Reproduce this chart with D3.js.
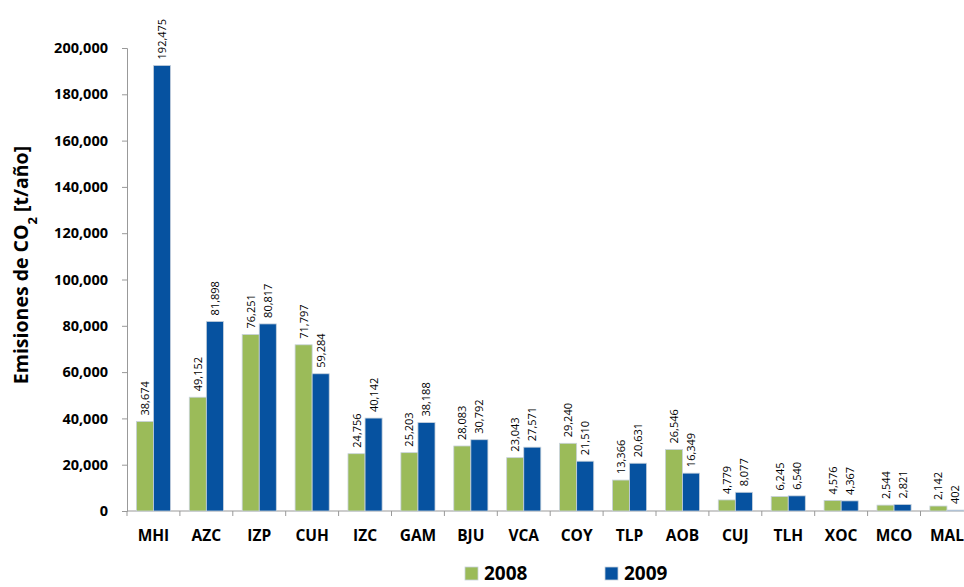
<!DOCTYPE html>
<meta charset="utf-8">
<style>
    body { margin: 0; background: #fff; }
    text { font-family: "Open Sans", "Noto Sans", sans-serif; }
    .axis path, .axis line { stroke: #999; }
    .axis text { font-size: 15.5px; font-weight: bold; fill: #000; }
    .val { font-size: 11px; fill: #000; }
</style>
<svg width="964" height="587"></svg>
<script src="https://d3js.org/d3.v7.min.js"></script>
<script>
    const categories = ["MHI", "AZC", "IZP", "CUH", "IZC", "GAM", "BJU", "VCA", "COY", "TLP", "AOB", "CUJ", "TLH", "XOC", "MCO", "MAL"];
    const values2008 = [38674, 49152, 76251, 71797, 24756, 25203, 28083, 23043, 29240, 13366, 26546, 4779, 6245, 4576, 2544, 2142];
    const values2009 = [192475, 81898, 80817, 59284, 40142, 38188, 30792, 27571, 21510, 20631, 16349, 8077, 6540, 4367, 2821, 402];
    const seriesNames = ["2008", "2009"];
    const yTicks = [0, 20000, 40000, 60000, 80000, 100000, 120000, 140000, 160000, 180000, 200000];
    const colors = ["#9BBB59", "#0652A0"];

    const svg = d3.select("svg");
    const plotLeft = 127, plotTop = 48, plotBottom = 511;
    const bandW = 52.9;

    const x = d3.scaleBand()
        .domain(categories)
        .range([plotLeft, plotLeft + bandW * categories.length])
        .paddingInner(0)
        .paddingOuter(0);

    const xs = d3.scaleBand()
        .domain(seriesNames)
        .range([0, x.bandwidth()])
        .paddingOuter(0.55)
        .paddingInner(0);

    const y = d3.scaleLinear().domain([0, 200000]).range([plotBottom, plotTop]);

    // y axis
    const yAxis = svg.append("g")
        .attr("class", "axis")
        .attr("transform", "translate(" + plotLeft + ",0)")
        .call(d3.axisLeft(y).tickValues(yTicks).tickSizeOuter(0).tickSize(5).tickPadding(14)
            .tickFormat(d3.format(",")));
    yAxis.selectAll("text").style("font-size", "14.5px");

    // x axis with ticks between categories
    const xAxisG = svg.append("g")
        .attr("class", "axis")
        .attr("transform", "translate(0," + plotBottom + ")");
    xAxisG.append("line")
        .attr("x1", plotLeft).attr("x2", x.range()[1])
        .attr("y1", 0).attr("y2", 0);
    xAxisG.selectAll(".tk")
        .data(categories.concat(["end"]))
        .enter().append("line")
        .attr("x1", (d, i) => plotLeft + i * x.step())
        .attr("x2", (d, i) => plotLeft + i * x.step())
        .attr("y1", 0).attr("y2", 5);
    xAxisG.selectAll(".lbl")
        .data(categories)
        .enter().append("text")
        .attr("x", d => x(d) + x.bandwidth() / 2)
        .attr("y", 30)
        .attr("text-anchor", "middle")
        .text(d => d);

    const series = [values2008, values2009];

    series.forEach(function (vals, s) {
        const g = svg.append("g");
        g.selectAll("rect")
            .data(vals)
            .enter().append("rect")
            .attr("x", (d, i) => x(categories[i]) + xs(seriesNames[s]))
            .attr("y", d => y(d))
            .attr("width", xs.bandwidth())
            .attr("height", d => plotBottom - y(d))
            .attr("fill", colors[s])
            .attr("stroke", "#c8d2dc")
            .attr("stroke-width", 0.8);

        g.selectAll("text")
            .data(vals)
            .enter().append("text")
            .attr("class", "val")
            .attr("transform", (d, i) => {
                const cx = x(categories[i]) + xs(seriesNames[s]) + xs.bandwidth() / 2 + 4;
                return "translate(" + cx + "," + (y(d) - 6) + ") rotate(-90)";
            })
            .text(d => d3.format(",")(d));
    });

    // y axis title
    const title = svg.append("text")
        .attr("transform", "translate(28,265) rotate(-90)")
        .attr("text-anchor", "middle")
        .style("font-size", "19.5px")
        .style("font-weight", "bold");
    title.append("tspan").text("Emisiones de CO");
    title.append("tspan").attr("baseline-shift", "sub").style("font-size", "13px").text("2");
    title.append("tspan").text(" [t/año]");

    // legend
    const legend = svg.append("g");
    const legX = [465, 605];
    seriesNames.forEach(function (name, i) {
        legend.append("rect")
            .attr("x", legX[i]).attr("y", 567)
            .attr("width", 13).attr("height", 13)
            .attr("fill", colors[i])
            .attr("stroke", "#c8d2dc").attr("stroke-width", 0.8);
        legend.append("text")
            .attr("x", legX[i] + 19).attr("y", 580)
            .style("font-size", "19px")
            .style("font-weight", "bold")
            .text(name);
    });
</script>
